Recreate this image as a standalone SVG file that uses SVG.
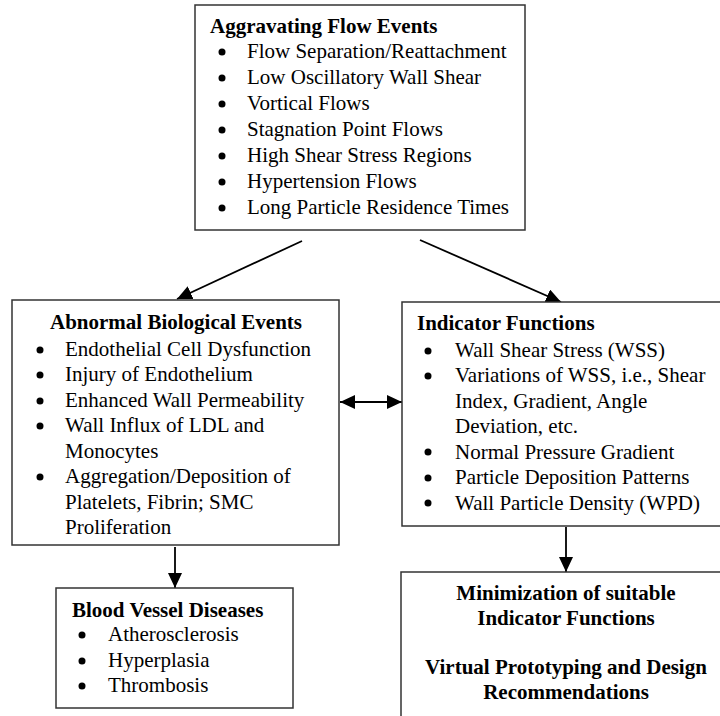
<svg xmlns="http://www.w3.org/2000/svg" width="720" height="716" viewBox="0 0 720 716">
<style>
.box{fill:#fff;stroke:#333;stroke-width:1.5}
text{font-family:"Liberation Serif","Times New Roman",serif;font-size:21px;fill:#000}
.t{font-weight:bold}
.c{text-anchor:middle}
.b{fill:#000}
.con{stroke:#000;stroke-width:1.8;fill:none}
</style>
<defs>
<marker id="ah" markerUnits="userSpaceOnUse" markerWidth="16" markerHeight="14" refX="15" refY="7" orient="auto-start-reverse">
<path d="M0,0 L15,7 L0,14 z" fill="#000"/>
</marker>
</defs>
<rect width="720" height="716" fill="#fff"/>
<g id="connectors">
<line class="con" x1="302" y1="241" x2="177" y2="299" marker-end="url(#ah)"/>
<line class="con" x1="420" y1="240" x2="561" y2="302" marker-end="url(#ah)"/>
<line class="con" x1="340" y1="402" x2="402" y2="402" marker-start="url(#ah)" marker-end="url(#ah)"/>
<line class="con" x1="175" y1="547" x2="175" y2="588" marker-end="url(#ah)"/>
<line class="con" x1="566" y1="527" x2="566" y2="572" marker-end="url(#ah)"/>
</g>
<g id="aggravating">
<rect class="box" x="195" y="5" width="330" height="225"/>
<text class="t" x="210" y="33">Aggravating Flow Events</text>
<g class="b"><circle cx="222" cy="52" r="3.5"/><circle cx="222" cy="78" r="3.5"/><circle cx="222" cy="104" r="3.5"/><circle cx="222" cy="130" r="3.5"/><circle cx="222" cy="156" r="3.5"/><circle cx="222" cy="182" r="3.5"/><circle cx="222" cy="208" r="3.5"/></g>
<text x="247" y="58">Flow Separation/Reattachment</text>
<text x="247" y="84">Low Oscillatory Wall Shear</text>
<text x="247" y="110">Vortical Flows</text>
<text x="247" y="136">Stagnation Point Flows</text>
<text x="247" y="162">High Shear Stress Regions</text>
<text x="247" y="188">Hypertension Flows</text>
<text x="247" y="214">Long Particle Residence Times</text>
</g>
<g id="abnormal">
<rect class="box" x="12" y="300" width="327" height="245"/>
<text class="t c" x="176" y="329">Abnormal Biological Events</text>
<g class="b"><circle cx="40" cy="350" r="3.5"/><circle cx="40" cy="375" r="3.5"/><circle cx="40" cy="401" r="3.5"/><circle cx="40" cy="426" r="3.5"/><circle cx="40" cy="477" r="3.5"/></g>
<text x="65" y="356">Endothelial Cell Dysfunction</text>
<text x="65" y="381">Injury of Endothelium</text>
<text x="65" y="407">Enhanced Wall Permeability</text>
<text x="65" y="432">Wall Influx of LDL and</text>
<text x="65" y="458">Monocytes</text>
<text x="65" y="483">Aggregation/Deposition of</text>
<text x="65" y="509">Platelets, Fibrin; SMC</text>
<text x="65" y="534">Proliferation</text>
</g>
<g id="indicator">
<rect class="box" x="402" y="302" width="330" height="224"/>
<text class="t" x="417" y="330">Indicator Functions</text>
<g class="b"><circle cx="428" cy="351" r="3.5"/><circle cx="428" cy="376" r="3.5"/><circle cx="428" cy="452" r="3.5"/><circle cx="428" cy="478" r="3.5"/><circle cx="428" cy="503" r="3.5"/></g>
<text x="455" y="357">Wall Shear Stress (WSS)</text>
<text x="455" y="382">Variations of WSS, i.e., Shear</text>
<text x="455" y="408">Index, Gradient, Angle</text>
<text x="455" y="433">Deviation, etc.</text>
<text x="455" y="459">Normal Pressure Gradient</text>
<text x="455" y="484">Particle Deposition Patterns</text>
<text x="455" y="510">Wall Particle Density (WPD)</text>
</g>
<g id="diseases">
<rect class="box" x="56" y="588" width="237" height="120"/>
<text class="t" x="72" y="617">Blood Vessel Diseases</text>
<g class="b"><circle cx="82" cy="635" r="3.5"/><circle cx="82" cy="661" r="3.5"/><circle cx="82" cy="686" r="3.5"/></g>
<text x="108" y="641">Atherosclerosis</text>
<text x="108" y="667">Hyperplasia</text>
<text x="108" y="692">Thrombosis</text>
</g>
<g id="minimization">
<rect class="box" x="401" y="572" width="330" height="160"/>
<text class="t c" x="566" y="600">Minimization of suitable</text>
<text class="t c" x="566" y="625">Indicator Functions</text>
<text class="t c" x="566" y="674">Virtual Prototyping and Design</text>
<text class="t c" x="566" y="699">Recommendations</text>
</g>
</svg>
